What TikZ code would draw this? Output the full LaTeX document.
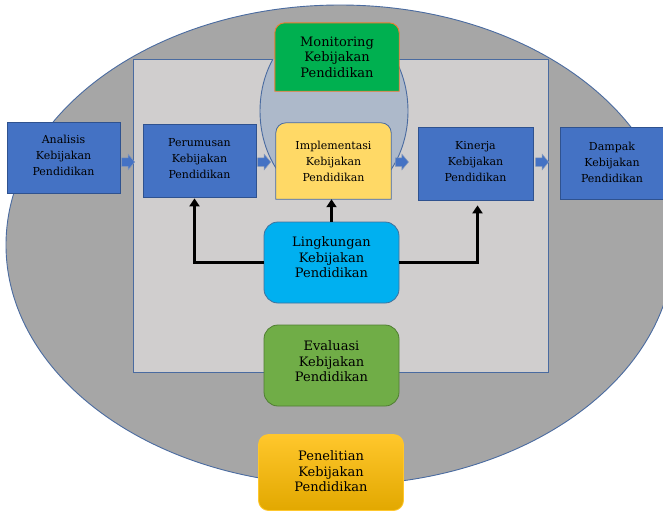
\documentclass[tikz,border=0pt]{standalone}
\usepackage{fontspec}
\setmainfont{DejaVu Serif}
\usetikzlibrary{arrows.meta,shapes.arrows,backgrounds,calc}
\definecolor{outerfill}{HTML}{A6A6A6}
\definecolor{edgeblue}{HTML}{4A6BA0}
\definecolor{innerfill}{HTML}{D0CECE}
\definecolor{ellfill}{HTML}{ADB9CA}
\definecolor{boxblue}{HTML}{4472C4}
\definecolor{boxblueedge}{HTML}{2F528F}
\definecolor{impfill}{HTML}{FFD966}
\definecolor{monfill}{HTML}{00B050}
\definecolor{monedge}{HTML}{ED7D31}
\definecolor{linfill}{HTML}{00B0F0}
\definecolor{linedge}{HTML}{41719C}
\definecolor{evafill}{HTML}{70AD47}
\definecolor{evaedge}{HTML}{507E32}
\definecolor{pentop}{HTML}{FFC72C}
\definecolor{penbot}{HTML}{E2A800}
\pgfdeclarelayer{bottom}
\pgfsetlayers{bottom,background,main}
\tikzset{
  smalltext/.style={font=\fontsize{11}{16}\selectfont, align=center, text=black},
  bigtext/.style={font=\fontsize{13}{15.5}\selectfont, align=center, text=black},
  bluebox/.style={draw=boxblueedge, fill=boxblue, line width=0.8pt,
    minimum width=113pt, minimum height=71pt, inner sep=0pt},
  roundbox/.style={line width=0.8pt, rounded corners=14pt,
    minimum width=135pt, minimum height=81pt, inner sep=0pt},
  blkarrow/.style={line width=2.3pt, black, -{Triangle[length=8pt,width=10pt]}},
  barrow/.style={single arrow, draw=boxblueedge!60!white, fill=boxblue, line width=0.5pt,
    minimum height=13pt, inner xsep=0pt, inner ysep=4pt, single arrow head extend=3.5pt,
    single arrow tip angle=100, anchor=west}
}
\begin{document}
\begin{tikzpicture}[x=1pt,y=-1pt]
\useasboundingbox (0,0) rectangle (663,512);
\begin{pgfonlayer}{bottom}
  \clip (0,0) rectangle (663,512);
  \fill[white] (0,0) rectangle (663,512);
  \draw[edgeblue, fill=outerfill, line width=0.9pt] (340,245) ellipse [x radius=334pt, y radius=240pt];
  \draw[edgeblue, fill=innerfill, line width=0.9pt] (133,59) rectangle (548,372);
  \begin{scope}
    \clip (133,59.6) rectangle (548,198);
    \draw[edgeblue, fill=ellfill, line width=0.9pt] (334,111) ellipse [x radius=74pt, y radius=92pt];
  \end{scope}
\end{pgfonlayer}

% blue boxes
\node[bluebox] (ana) at (63.5,158) {};
\node[smalltext] (anaT) at ([yshift=2.5pt]ana.center) {Analisis\\Kebijakan\\Pendidikan};
\node[bluebox, minimum height=73pt] (per) at (199.5,160.5) {};
\node[smalltext] (perT) at ([yshift=1.5pt]per.center) {Perumusan\\Kebijakan\\Pendidikan};
\node[bluebox, minimum width=115pt, minimum height=73pt] (kin) at (475.5,163.5) {};
\node[smalltext] (kinT) at ([yshift=2pt]kin.center) {Kinerja\\Kebijakan\\Pendidikan};
\node[bluebox, minimum width=104pt, minimum height=72pt] (dam) at (612,163) {};
\node[smalltext] (damT) at ([yshift=1pt]dam.center) {Dampak\\Kebijakan\\Pendidikan};

% top-rounded boxes
\node[smalltext, minimum width=115pt, minimum height=76pt, inner sep=0pt] (imp) at (333.5,161) {Implementasi\\Kebijakan\\Pendidikan};
\node[bigtext, minimum width=124pt, minimum height=68pt, inner sep=0pt] (mon) at (337,57) {Monitoring\\Kebijakan\\Pendidikan};
\begin{pgfonlayer}{background}
  \draw[edgeblue, fill=impfill, line width=0.8pt] (imp.south west) [rounded corners=10pt] -- (imp.north west) -- (imp.north east) [sharp corners] -- (imp.south east) -- cycle;
  \draw[monedge, fill=monfill, line width=0.9pt] (mon.south west) [rounded corners=10pt] -- (mon.north west) -- (mon.north east) [sharp corners] -- (mon.south east) -- cycle;
\end{pgfonlayer}

% rounded boxes
\node[roundbox, draw=linedge, fill=linfill] (lin) at (331.5,262.5) {};
\node[bigtext] (linT) at ([yshift=5pt]lin.center) {Lingkungan\\Kebijakan\\Pendidikan};
\node[roundbox, draw=evaedge, fill=evafill] (eva) at (331.5,365.5) {};
\node[bigtext] (evaT) at ([yshift=4pt]eva.center) {Evaluasi\\Kebijakan\\Pendidikan};
\node[roundbox, draw=pentop, top color=pentop, bottom color=penbot, rounded corners=10pt,
  minimum width=145pt, minimum height=76pt] (pen) at (331,472.5) {};
\node[bigtext] (penT) at ([yshift=1pt]pen.center) {Penelitian\\Kebijakan\\Pendidikan};

% block arrows
\node[barrow] (b1) at ([xshift=1pt]ana.east |- 0,162) {};
\node[barrow] (b2) at ([xshift=1pt]per.east |- 0,162) {};
\node[barrow] (b3) at ([xshift=4pt]imp.east |- 0,162) {};
\node[barrow] (b4) at ([xshift=2pt]kin.east |- 0,162) {};

% black arrows
\draw[blkarrow, shorten >=1pt] (lin.west) -| ([xshift=-5pt]per.south);
\draw[blkarrow] (lin.north) -- (lin.north |- imp.south);
\draw[blkarrow, shorten >=5pt] (lin.east) -| ([xshift=2pt]kin.south);
\end{tikzpicture}
\end{document}
